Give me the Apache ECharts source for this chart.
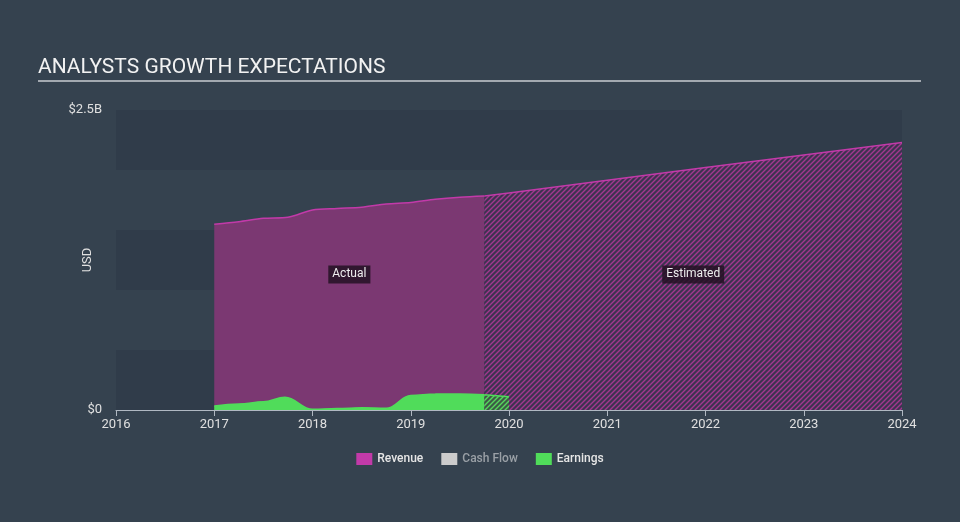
<!DOCTYPE html>
<html>
<head>
<meta charset="utf-8">
<script src="https://cdn.jsdelivr.net/npm/echarts@6/dist/echarts.min.js"></script>
<style>html,body{margin:0;padding:0;background:#35424f;}#c{width:960px;height:522px;}</style>
</head>
<body>
<div id="c"></div>
<script>
// Decimal years (quarter ends), values in USD billions
var revActualX = [2017.0, 2017.25, 2017.5, 2017.75, 2018.0, 2018.25, 2018.5, 2018.75, 2019.0, 2019.25, 2019.5, 2019.75];
var revActualY = [1.547, 1.569, 1.597, 1.606, 1.667, 1.680, 1.690, 1.717, 1.730, 1.756, 1.773, 1.783];
var revEstX = [2019.75, 2020.0, 2021.0, 2022.0, 2023.0, 2024.0];
var revEstY = [1.783, 1.809, 1.914, 2.020, 2.125, 2.230];
var earnActualX = [2017.0, 2017.25, 2017.5, 2017.72, 2018.0, 2018.25, 2018.5, 2018.75, 2019.0, 2019.25, 2019.5, 2019.75];
var earnActualY = [0.033, 0.050, 0.068, 0.106, 0.006, 0.012, 0.018, 0.014, 0.120, 0.133, 0.134, 0.128];
var earnEstX = [2019.75, 2020.0];
var earnEstY = [0.128, 0.111];
var yTickLabels = {0: '$0', 2.5: '$2.5B'};
var legendNames = ['Revenue', 'Cash Flow', 'Earnings'];
var regionLabels = ['Actual', 'Estimated'];

function pairs(xs, ys){ return xs.map(function(x,i){ return [x, ys[i]]; }); }
function hatch(bg, fg){
  var c = document.createElement('canvas'); c.width = 5; c.height = 5;
  var g = c.getContext('2d');
  g.fillStyle = bg; g.fillRect(0,0,5,5);
  g.strokeStyle = fg; g.lineWidth = 1.4;
  g.beginPath();
  g.moveTo(0,5); g.lineTo(5,0);
  g.moveTo(-1,1); g.lineTo(1,-1);
  g.moveTo(4,6); g.lineTo(6,4);
  g.stroke();
  return {image: c, repeat: 'repeat'};
}

var REV = '#c23aa9', REVFILL = '#7b3872', EARN = '#50dc5a', CF = '#cccccc';
var chart = echarts.init(document.getElementById('c'), null, {renderer: 'canvas'});
var baseGraphic = [
  {type: 'text', left: 38, top: 57, style: {text: 'ANALYSTS GROWTH EXPECTATIONS', fill: '#f2f2f2', fontSize: 21, fontFamily: 'Roboto'}},
  {type: 'rect', left: 38, top: 80, shape: {width: 883, height: 2}, style: {fill: '#a3a9b0'}}
];
chart.setOption({
  backgroundColor: '#35424f',
  animation: false,
  textStyle: {fontFamily: 'Roboto'},
  graphic: baseGraphic,
  grid: {left: 116, right: 58, top: 110, bottom: 112},
  legend: {
    bottom: 52, left: 'center', itemWidth: 16, itemHeight: 12, itemGap: 18, icon: 'rect',
    textStyle: {color: '#e6e6e6', fontSize: 12, fontWeight: 500},
    data: [{name: legendNames[0]}, {name: legendNames[1], textStyle: {color: '#9aa0a6'}}, {name: legendNames[2]}]
  },
  xAxis: {
    type: 'value', min: 2016, max: 2024, interval: 1,
    axisLine: {lineStyle: {color: '#b0b8c2', width: 1}},
    axisTick: {show: true, length: 6, lineStyle: {color: '#b0b8c2'}},
    axisLabel: {color: '#e0e0e0', fontSize: 13, margin: 8, formatter: function(v){ return String(v); }},
    splitLine: {show: false}
  },
  yAxis: {
    type: 'value', min: 0, max: 2.5, interval: 0.5,
    name: 'USD', nameLocation: 'middle', nameGap: 22, nameRotate: 90, nameMoveOverlap: false,
    nameTextStyle: {color: '#e0e0e0', fontSize: 13},
    axisLine: {show: false}, axisTick: {show: false},
    axisLabel: {color: '#e0e0e0', fontSize: 13, margin: 14, formatter: function(v){ return yTickLabels[v] || ''; }},
    splitLine: {show: false},
    splitArea: {show: true, areaStyle: {color: ['#303c4a', '#35424f']}}
  },
  series: [
    {
      name: 'Revenue', type: 'line', data: pairs(revActualX, revActualY), smooth: 0.3, symbol: 'none',
      lineStyle: {color: REV, width: 1.5}, itemStyle: {color: REV},
      areaStyle: {color: REVFILL, opacity: 1}, z: 2
    },
    {
      name: 'Revenue', type: 'line', data: pairs(revEstX, revEstY), smooth: false, symbol: 'none',
      lineStyle: {color: REV, width: 1.5}, itemStyle: {color: REV},
      areaStyle: {color: hatch('#3d3350', '#a2388f'), opacity: 1}, z: 2
    },
    {name: 'Cash Flow', type: 'line', data: [], itemStyle: {color: CF}},
    {
      name: 'Earnings', type: 'line', data: pairs(earnActualX, earnActualY), smooth: 0.4, smoothMonotone: 'x', symbol: 'none',
      lineStyle: {color: EARN, width: 1.5}, itemStyle: {color: EARN},
      areaStyle: {color: EARN, opacity: 1}, z: 3
    },
    {
      name: 'Earnings', type: 'line', data: pairs(earnEstX, earnEstY), smooth: false, symbol: 'none',
      lineStyle: {color: EARN, width: 1.5}, itemStyle: {color: EARN},
      areaStyle: {color: hatch('#3d5a45', '#55d85e'), opacity: 1}, z: 3
    }
  ]
});
// Region labels centred over the actual / estimated spans, placed through the axis scales
var spans = [[revActualX[0], revActualX[revActualX.length-1]], [revEstX[0], revEstX[revEstX.length-1]]];
var labelG = spans.map(function(s, i){
  var p = chart.convertToPixel({gridIndex: 0}, [(s[0] + s[1]) / 2, 1.13]);
  return {type: 'text', x: p[0], y: p[1], z: 100,
    style: {text: regionLabels[i], fill: '#eeeeee', fontSize: 12, fontFamily: 'Roboto',
      align: 'center', verticalAlign: 'middle', backgroundColor: 'rgba(35,18,35,0.85)', padding: [3, 4]}};
});
chart.setOption({graphic: baseGraphic.concat(labelG)});
</script>
</body>
</html>
